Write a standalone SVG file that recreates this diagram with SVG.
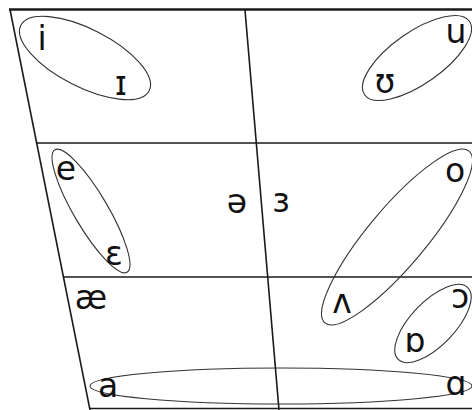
<svg xmlns="http://www.w3.org/2000/svg" width="472" height="410" viewBox="0 0 472 410">
<style>
.ln{stroke:#1a1a1a;stroke-width:1.6;fill:none}
.top{stroke:#1a1a1a;stroke-width:2.6;fill:none}
.el{stroke:#333;stroke-width:1.1;fill:none}
text{font-family:"DejaVu Sans",Verdana,sans-serif;font-size:33px;fill:#111;text-anchor:middle}
</style>
<rect width="472" height="410" fill="#fff"/>
<g id="connectors">
<line class="top" x1="9" y1="9.5" x2="472" y2="9.5"/>
<line class="ln" x1="10" y1="9.5" x2="90" y2="410"/>
<line class="ln" x1="36.7" y1="143" x2="472" y2="143"/>
<line class="ln" x1="63.4" y1="277" x2="472" y2="277"/>
<line class="ln" x1="89.5" y1="408.5" x2="472" y2="408.5"/>
<line class="ln" x1="245" y1="10" x2="279" y2="410"/>
</g>
<g id="grp-i"><ellipse class="el" cx="85" cy="58" rx="72" ry="29" transform="rotate(27 85 58)"/></g>
<g id="grp-u"><ellipse class="el" cx="417" cy="58" rx="64" ry="26" transform="rotate(-35 417 58)"/></g>
<g id="grp-e"><ellipse class="el" cx="91" cy="211" rx="71" ry="17" transform="rotate(59.5 91 211)"/></g>
<g id="grp-o"><ellipse class="el" cx="397" cy="237" rx="112" ry="29" transform="rotate(-50 397 237)"/></g>
<g id="grp-c"><ellipse class="el" cx="433" cy="323.5" rx="50" ry="22" transform="rotate(-46 433 323.5)"/></g>
<g id="grp-a"><ellipse class="el" cx="281" cy="386" rx="191" ry="18"/></g>
<g id="n-i"><text x="42" y="50">i</text></g>
<g id="n-I"><text x="121" y="95">ɪ</text></g>
<g id="n-u"><text x="456" y="43">u</text></g>
<g id="n-U"><text x="385" y="93">ʊ</text></g>
<g id="n-e"><text x="66" y="180">e</text></g>
<g id="n-E"><text x="114" y="265">ɛ</text></g>
<g id="n-schwa"><text x="237" y="213">ə</text></g>
<g id="n-3"><text x="281" y="212">ɜ</text></g>
<g id="n-o"><text x="455" y="182">o</text></g>
<g id="n-ae"><text x="91" y="309">æ</text></g>
<g id="n-V"><text x="342" y="313">ʌ</text></g>
<g id="n-c"><text x="460" y="308">ɔ</text></g>
<g id="n-D"><text x="415" y="352">ɒ</text></g>
<g id="n-a"><text x="108" y="397">a</text></g>
<g id="n-A"><text x="456" y="395">ɑ</text></g>
</svg>
